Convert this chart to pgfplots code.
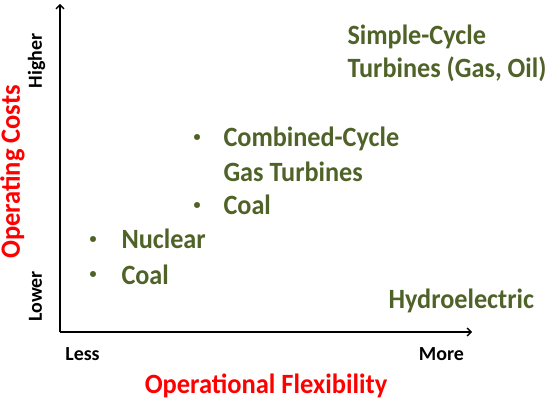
\documentclass[border=0pt]{standalone}
\usepackage{pgfplots}
\pgfplotsset{compat=1.18}
\usepackage{fontspec}
\setmainfont{Carlito}
\newfontfamily\itemfont[FakeStretch=0.94]{Carlito}
\newfontfamily\titlefont[FakeStretch=0.95]{Carlito}
\usetikzlibrary{arrows.meta}

\definecolor{olive}{HTML}{4F6228}
\definecolor{labred}{HTML}{FF0000}

\begin{document}
\begin{tikzpicture}
\begin{axis}[
  scale only axis,
  width=412bp, height=328bp,
  xmin=60, xmax=472,
  ymin=68, ymax=396,
  axis lines=left,
  axis line style={line width=1.4bp, -{Straight Barb[length=4bp,width=8bp]}},
  xtick=\empty, ytick=\empty,
  clip=false,
  every node/.append style={inner sep=0pt, font=\bfseries},
]
% bullet points in front of the listed items
\addplot[only marks, mark=*, mark size=2.8bp, color=olive] coordinates {
  (197,263) (197,195) (93,161) (93,126)
};

% item texts
\begin{scope}[every node/.append style={anchor=base west, text=olive, font=\itemfont\fontsize{28}{33}\selectfont\bfseries}]
\node at (axis cs:344,355) {Simple-Cycle};
\node at (axis cs:344,322) {Turbines (Gas, Oil)};
\node at (axis cs:220,253) {Combined-Cycle};
\node at (axis cs:220,218) {Gas Turbines};
\node at (axis cs:220,185) {Coal};
\node at (axis cs:118,151) {Nuclear};
\node at (axis cs:118,116) {Coal};
\node at (axis cs:385,92) {Hydroelectric};
\end{scope}

% axis ends
\begin{scope}[every node/.append style={anchor=base, font=\fontsize{20}{24}\selectfont\bfseries}]
\node at (axis cs:82.5,40) {Less};
\node at (axis cs:441.5,40) {More};
\node[rotate=90] at (axis cs:42,339) {Higher};
\node[rotate=90] at (axis cs:42,103.5) {Lower};
\end{scope}

% axis titles
\begin{scope}[every node/.append style={anchor=base, text=labred, font=\titlefont\fontsize{28}{33}\selectfont\bfseries}]
\node at (axis cs:266,7) {Operational Flexibility};
\node[rotate=90] at (axis cs:20,228) {Operating Costs};
\end{scope}

\coordinate (bbll) at (axis cs:0,0);
\coordinate (bbur) at (axis cs:550,400);
\end{axis}
\pgfresetboundingbox
\path (bbll) rectangle (bbur);
\end{tikzpicture}
\end{document}
